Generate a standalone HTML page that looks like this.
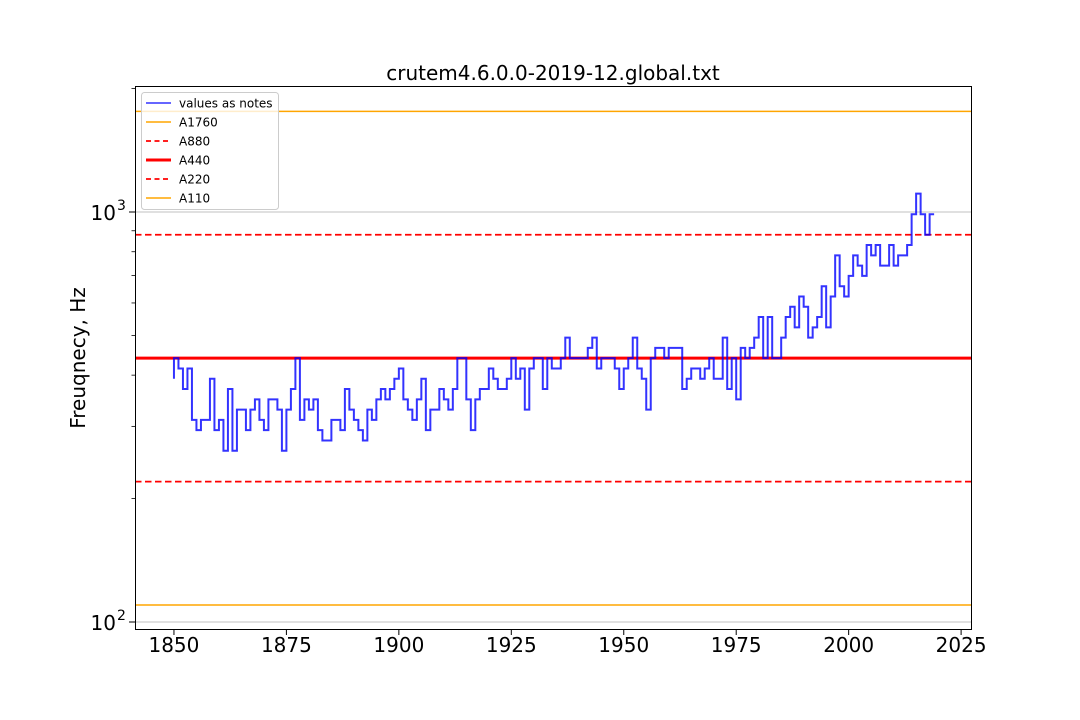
<!DOCTYPE html>
<html><head><meta charset="utf-8"><style>
html,body{margin:0;padding:0;background:#fff;}
svg{display:block;font-family:"DejaVu Sans","Liberation Sans",sans-serif;}
</style></head><body>
<svg id="chart" width="1080" height="720" viewBox="0 0 1080 720">
<rect width="1080" height="720" fill="#fff"/>
<text x="553" y="80" font-size="20" text-anchor="middle" fill="#000">crutem4.6.0.0-2019-12.global.txt</text>
<g id="grid"></g>
<g id="refs"></g>
<g id="series"></g>
<rect x="135.5" y="86.5" width="836" height="543" fill="none" stroke="#000" stroke-width="1"/>
<g id="axes"></g>
<text transform="translate(85,358) rotate(-90)" font-size="20" text-anchor="middle" fill="#000">Freuqnecy, Hz</text>
<g id="legend"></g>
</svg>
<script>
// data: semitone offsets from A440, one per year
const startYear = 1850;
const semitones = [-2,
0,-1,-3,-1,-6,-7,-6,-6,-2,-7,-6,-9,-3,-9,-5,-5,-7,-5,-4,-6,-7,-4,-4,-5,-9,-5,-3,0,-6,-4,-5,-4,-7,-8,-8,-6,-6,-7,-3,-5,-6,-7,-8,
-5,-6,-4,-3,-4,-3,-2,-1,-4,-5,-6,-4,-2,-7,-5,-5,-3,-4,-5,-3,0,0,-4,-7,-4,-3,-3,-1,-2,-3,-3,-2,0,-2,-1,-5,-1,0,0,-3,0,-1,-1,0,2,0,0,0,0,1,2,-1,0,0,0,-1,-3,-1,0,2,-1,-2,-5,0,1,1,0,1,1,1,-3,-2,-1,-1,-2,-1,0,-2,-2,2,-3,0,-4,
1,0,1,2,4,0,4,0,0,2,4,5,3,6,5,2,3,4,7,3,6,10,7,6,8,10,9,8,11,10,11,9,9,11,9,10,10,11,14,16,14,12,14];
const refNames = ["A1760","A880","A440","A220","A110"];
const refFreqs = [1760,880,440,220,110];
const xTicks = [1850,1875,1900,1925,1950,1975,2000,2025];
const yMajor = [100,1000];

const NS="http://www.w3.org/2000/svg";
const L=135, R=971, T=86, B=629;
const xMin=1841.34, xMax=2027.2;
function X(v){return L+(v-xMin)/(xMax-xMin)*(R-L);}
function Y(f){return 622-(Math.log10(f)-2)*410;}
function mk(tag,attrs,parent){const e=document.createElementNS(NS,tag);for(const k in attrs)e.setAttribute(k,attrs[k]);parent.appendChild(e);return e;}
const grid=document.getElementById('grid'),refs=document.getElementById('refs'),series=document.getElementById('series'),axes=document.getElementById('axes'),legend=document.getElementById('legend');

yMajor.forEach(f=>{
  const g=mk('line',{x1:L,x2:R,y1:Y(f),y2:Y(f),stroke:'#c0c0c0','stroke-width':1},grid);
  
  
});

const styles={A1760:{c:'#ffa500',w:1.5,d:''},A880:{c:'#ff0000',w:1.7,d:'6.5,3.5'},A440:{c:'#ff0000',w:3,d:''},A220:{c:'#ff0000',w:1.7,d:'6.5,3.5'},A110:{c:'#ffa500',w:1.5,d:''}};
refFreqs.forEach((f,i)=>{
  const s=styles[refNames[i]];
  const l=mk('line',{x1:L,x2:R,y1:Y(f),y2:Y(f),stroke:s.c,'stroke-width':s.w},refs);
  if(s.d)l.setAttribute('stroke-dasharray',s.d);
  
  
});

// step plot, where='pre'
let d='';
semitones.forEach((s,i)=>{
  const yr=startYear+i, f=440*Math.pow(2,s/12);
  if(i===0){d+='M'+X(yr)+','+Y(f);}
  else{d+='V'+Y(f)+'H'+X(yr);}
});
const p=mk('path',{d:d,fill:'none',stroke:'#0000ff','stroke-opacity':0.8,'stroke-width':2},series);



xTicks.forEach(t=>{
  const x=X(t);
  const tk=mk('line',{x1:x,x2:x,y1:B+1,y2:B+6,stroke:'#000'},axes);
  
  
  const tx=mk('text',{x:x,y:652,'font-size':20,'text-anchor':'middle',fill:'#000'},axes);
  tx.textContent=t;
  
  
});
yMajor.forEach((f,i)=>{
  const y=Y(f);
  const tk=mk('line',{x1:L-6,x2:L,y1:y,y2:y,stroke:'#000'},axes);
  
  
  const tx=mk('text',{x:116,y:y+8,'font-size':20,'text-anchor':'end',fill:'#000'},axes);
  tx.textContent='10';
  
  
  const sup=mk('text',{x:117,y:y-2,'font-size':14,'text-anchor':'start',fill:'#000'},axes);
  sup.textContent=String(i+2);
  
  
});
[200,300,400,500,600,700,800,900,2000].forEach(f=>{
  const y=Y(f); if(y<T)return;
  const tk=mk('line',{x1:L-3.5,x2:L,y1:y,y2:y,stroke:'#000','stroke-width':0.8},axes);
  
  
});

// legend
const lb=mk('rect',{x:141.5,y:92.5,width:137,height:117,rx:3,fill:'#fff','fill-opacity':0.8,stroke:'#ccc'},legend);


const entries=[{n:'values as notes',c:'#0000ff',w:1.5,d:'',o:0.8}].concat(refNames.map(n=>({n:n,c:styles[n].c,w:styles[n].w,d:styles[n].d,o:1})));
entries.forEach((e,i)=>{
  const y=103+i*19;
  const l=mk('line',{x1:146,x2:171,y1:y,y2:y,stroke:e.c,'stroke-width':e.w,'stroke-opacity':e.o},legend);
  if(e.d)l.setAttribute('stroke-dasharray','5,3.5');
  
  
  const t=mk('text',{x:179,y:y+4.5,'font-size':12,fill:'#000'},legend);
  t.textContent=e.n;
  
  
});
</script>
</body></html>
